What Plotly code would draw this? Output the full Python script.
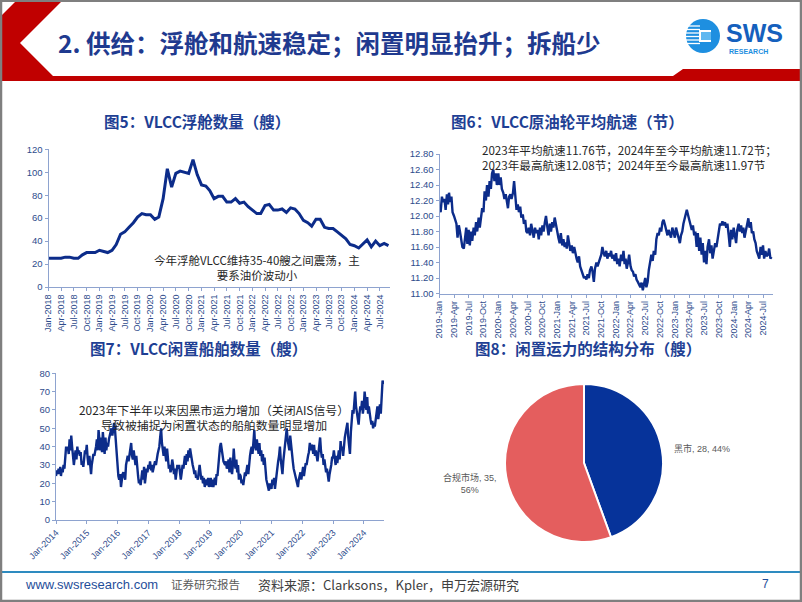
import plotly.graph_objects as go
import pandas as pd

W, H = 802, 602
def X(px): return px / W
def Y(py): return 1 - py / H

# ---------------- data ----------------
# Fig5: VLCC floating storage, monthly Jan-2018 .. Sep-2024
float_start = "2018-01-01"
float_values = [25, 25, 25, 25, 26, 26, 25, 25, 28, 30, 30, 30,
                32, 31, 30, 32, 37, 46, 48, 52, 56, 61, 64, 63,
                63, 59, 61, 77, 103, 87, 99, 101, 100, 99, 111, 98,
                89, 88, 84, 77, 79, 79, 74, 74, 77, 73, 74, 70,
                67, 64, 64, 71, 72, 67, 67, 68, 65, 69, 68, 64,
                58, 56, 53, 59, 59, 52, 51, 51, 48, 45, 42, 37,
                36, 34, 37, 41, 35, 40, 36, 38, 36]

# Fig6: VLCC average speed (knots), 4 readings per month
speed_2019 = [12.10, 12.05, 12.25, 12.18, 12.22, 12.08, 12.28, 12.15, 12.30, 12.18, 12.25, 12.05,
              12.00, 11.95, 11.90, 11.72, 11.88, 11.80, 11.65, 11.60, 11.58, 11.75, 11.85, 11.64,
              11.82, 11.62, 11.80, 11.68, 11.85, 11.75, 11.92, 11.80, 11.98, 11.85, 12.00, 12.10,
              12.05, 12.32, 12.20, 12.40, 12.25, 12.45, 12.35, 12.55, 12.60, 12.45, 12.55, 12.40]
speed_2020 = [12.55, 12.40, 12.50, 12.35, 12.30, 12.22, 12.28, 12.20, 12.10, 12.25, 12.28, 12.22,
              12.30, 12.45, 12.20, 12.08, 12.15, 12.05, 12.12, 11.98, 12.02, 11.90, 11.95, 11.80,
              11.78, 11.85, 11.75, 11.90, 11.80, 11.72, 11.85, 11.78, 11.82, 11.70, 11.85, 11.75,
              11.88, 11.80, 11.92, 12.00, 11.85, 11.75, 11.90, 11.80, 11.92, 11.85, 11.98, 11.88]
speed_2021 = [11.80, 11.72, 11.65, 11.78, 11.62, 11.70, 11.60, 11.66, 11.58, 11.75, 11.60, 11.55,
              11.62, 11.52, 11.60, 11.50, 11.45, 11.40, 11.48, 11.35, 11.30, 11.25, 11.20, 11.22,
              11.18, 11.25, 11.20, 11.30, 11.35, 11.28, 11.15, 11.32, 11.40, 11.35, 11.42, 11.45,
              11.50, 11.60, 11.52, 11.48, 11.55, 11.45, 11.52, 11.48, 11.55, 11.45, 11.50, 11.42]
speed_2022 = [11.52, 11.38, 11.45, 11.35, 11.50, 11.42, 11.55, 11.38, 11.45, 11.32, 11.40, 11.50,
              11.35, 11.30, 11.28, 11.22, 11.25, 11.18, 11.15, 11.12, 11.08, 11.14, 11.04, 11.12,
              11.20, 11.08, 11.15, 11.30, 11.40, 11.50, 11.42, 11.55, 11.50, 11.70, 11.78, 11.75,
              11.85, 11.80, 11.92, 11.95, 11.88, 11.80, 11.75, 11.82, 11.78, 11.72, 11.85, 11.78]
speed_2023 = [11.72, 11.85, 11.78, 11.70, 11.65, 11.75, 11.80, 11.90, 11.95, 12.00, 12.08, 12.02,
              11.95, 11.90, 11.82, 11.88, 11.75, 11.80, 11.60, 11.78, 11.55, 11.72, 11.50, 11.65,
              11.40, 11.55, 11.38, 11.60, 11.70, 11.52, 11.62, 11.45, 11.55, 11.65, 11.60, 11.70,
              11.85, 11.90, 11.88, 11.93, 11.88, 11.92, 11.85, 11.90, 11.75, 11.60, 11.82, 11.70]
speed_2024 = [11.85, 11.75, 11.65, 11.82, 11.90, 11.80, 11.88, 11.78, 11.85, 11.72, 11.80, 11.88,
              11.97, 11.85, 11.92, 11.78, 11.80, 11.70, 11.65, 11.55, 11.48, 11.45, 11.60, 11.50,
              11.62, 11.45, 11.55, 11.48, 11.50, 11.58, 11.45, 11.47]

# Fig7: VLCC idle ships, 3 readings per month
idle_2014 = [24, 27, 25, 28, 25, 29, 24, 28, 26, 30, 28, 33, 40, 38, 40, 36, 44, 38,
             46, 40, 35, 30, 34, 38, 33, 40, 36, 38, 35, 37, 30, 32, 29, 33, 38, 36]
idle_2015 = [41, 34, 30, 35, 28, 25, 30, 34, 36, 35, 37, 40, 44, 38, 49, 42, 38, 45,
             37, 48, 40, 36, 45, 38, 42, 40, 44, 46, 48, 50, 46, 52, 53, 50, 42, 36]
idle_2016 = [30, 24, 22, 25, 18, 22, 25, 26, 24, 22, 30, 33, 35, 32, 36, 40, 42, 35,
             33, 38, 32, 30, 35, 28, 24, 20, 22, 19, 24, 27, 22, 29, 20, 25, 28, 26]
idle_2017 = [30, 28, 32, 27, 30, 26, 28, 29, 32, 30, 34, 36, 38, 40, 45, 50, 42, 38,
             35, 40, 36, 32, 39, 33, 28, 30, 26, 28, 33, 30, 25, 28, 22, 26, 30, 28]
idle_2018 = [30, 26, 22, 26, 30, 28, 32, 35, 30, 36, 32, 38, 34, 39, 36, 32, 30, 28,
             25, 27, 23, 24, 22, 26, 30, 26, 22, 24, 20, 23, 18, 22, 20, 19, 23, 18]
idle_2019 = [20, 23, 18, 22, 18, 20, 23, 19, 25, 24, 30, 35, 40, 42, 38, 36, 32, 31,
             30, 32, 28, 30, 33, 26, 34, 28, 25, 30, 39, 32, 28, 33, 26, 30, 22, 25]
idle_2020 = [24, 20, 22, 19, 23, 26, 24, 28, 30, 25, 32, 35, 38, 40, 36, 42, 49, 40,
             38, 44, 40, 36, 42, 35, 38, 32, 36, 30, 34, 26, 22, 20, 18, 16, 20, 18]
idle_2021 = [17, 22, 19, 23, 17, 21, 25, 28, 32, 35, 40, 33, 30, 25, 32, 36, 40, 45,
             50, 44, 42, 38, 46, 40, 36, 32, 28, 26, 24, 22, 20, 18, 22, 24, 26, 22]
idle_2022 = [26, 29, 24, 28, 31, 30, 33, 35, 37, 42, 38, 41, 40, 36, 41, 35, 38, 33,
             32, 36, 40, 45, 38, 34, 36, 30, 33, 28, 26, 28, 24, 21, 25, 27, 30, 34]
idle_2023 = [34, 38, 32, 30, 35, 31, 34, 38, 33, 43, 38, 40, 35, 42, 45, 48, 52, 53,
             45, 40, 36, 48, 56, 60, 58, 66, 70, 62, 58, 55, 52, 58, 62, 60, 65, 58]
idle_2024 = [62, 70, 64, 60, 67, 58, 62, 57, 55, 52, 54, 50, 53, 51, 55, 58, 62, 55,
             60, 63, 58, 65, 76, 74]

# Fig8: idle capacity structure
pie_labels = ["黑市", "合规市场"]
pie_values = [28, 35]
pie_colors = ["#06339A", "#E45E5E"]

# ---------------- helpers ----------------
def spread(year_lists, start_year, per_month, days):
    xs, ys = [], []
    for k, vals in enumerate(year_lists):
        yr = start_year + k
        for j, v in enumerate(vals):
            xs.append(pd.Timestamp(year=yr, month=j // per_month + 1, day=days[j % per_month]))
            ys.append(v)
    return xs, ys

float_dates = pd.date_range(float_start, periods=len(float_values), freq="MS")
speed_x, speed_y = spread([speed_2019, speed_2020, speed_2021, speed_2022, speed_2023, speed_2024],
                          2019, 4, [1, 8, 16, 23])
idle_x, idle_y = spread([idle_2014, idle_2015, idle_2016, idle_2017, idle_2018, idle_2019,
                         idle_2020, idle_2021, idle_2022, idle_2023, idle_2024],
                        2014, 3, [1, 11, 21])

LINE = "#0C2C8A"
TITLE = "#1E3F94"
AXC = "#8EA3CF"
TICKC = "#2E4C8C"
TF = "Liberation Sans, Arial, sans-serif"
CJK = "Noto Sans CJK SC"

fig = go.Figure()
fig.add_trace(go.Scatter(x=float_dates, y=float_values, mode="lines",
                         line=dict(color=LINE, width=3), xaxis="x", yaxis="y",
                         showlegend=False, hoverinfo="skip"))
fig.add_trace(go.Scatter(x=speed_x, y=speed_y, mode="lines",
                         line=dict(color=LINE, width=2.4), xaxis="x2", yaxis="y2",
                         showlegend=False, hoverinfo="skip"))
fig.add_trace(go.Scatter(x=idle_x, y=idle_y, mode="lines",
                         line=dict(color=LINE, width=2.4), xaxis="x3", yaxis="y3",
                         showlegend=False, hoverinfo="skip"))
fig.add_trace(go.Pie(labels=pie_labels, values=pie_values, sort=False, direction="clockwise",
                     rotation=0, marker=dict(colors=pie_colors, line=dict(color="white", width=2)),
                     textinfo="none", hoverinfo="skip", showlegend=False, automargin=False,
                     domain=dict(x=[X(505), X(663)], y=[Y(542), Y(384)])))

def xax(domain, rng, fmt, dtick, tick0, angle, anchor):
    return dict(domain=domain, range=rng, type="date", tickformat=fmt, dtick=dtick, tick0=tick0,
                tickangle=angle, tickfont=dict(family=TF, size=9, color=TICKC),
                showline=True, linecolor=AXC, linewidth=1, ticks="outside", ticklen=3,
                tickcolor=AXC, showgrid=False, zeroline=False, anchor=anchor, fixedrange=True,
                automargin=False)

def yax(domain, rng, dtick, fmt, anchor):
    return dict(domain=domain, range=rng, dtick=dtick, tickformat=fmt,
                tickfont=dict(family=TF, size=9.5, color=TICKC),
                showline=True, linecolor=AXC, linewidth=1, ticks="outside", ticklen=3,
                tickcolor=AXC, showgrid=False, zeroline=False, anchor=anchor, fixedrange=True,
                automargin=False)

layout = dict(
    template="none",
    width=W, height=H, margin=dict(l=0, r=0, t=0, b=0, pad=0, autoexpand=False),
    paper_bgcolor="white", plot_bgcolor="white", showlegend=False,
    xaxis=xax([X(48.5), X(390)], ["2018-01-01", "2024-09-12"], "%b-%Y", "M3", "2018-01-01", -90, "y"),
    yaxis=yax([Y(287), Y(149.3)], [0, 120], 20, "d", "x"),
    xaxis2=xax([X(439.5), X(773)], ["2019-01-01", "2024-09-01"], "%Y-%b", "M3", "2019-01-01", -90, "y2"),
    yaxis2=yax([Y(293.5), Y(154)], [11.0, 12.8], 0.2, ".2f", "x2"),
    xaxis3=xax([X(56), X(384)], ["2014-01-01", "2024-08-28"], "%b-%Y", "M12", "2014-01-01", -45, "y3"),
    yaxis3=yax([Y(520), Y(373.3)], [0, 80], 10, "d", "x3"),
)
fig.update_layout(**layout)

# ---------------- shapes ----------------
def path(pts):
    return "M " + " L ".join(f"{X(a):.5f} {Y(b):.5f}" for a, b in pts) + " Z"

shapes = []
shapes.append(dict(type="path", xref="paper", yref="paper", layer="below",
                   path=path([(17, 0), (63, 0), (20, 43), (53, 76), (673, 76), (683, 69),
                              (802, 69), (802, 81), (0, 81), (0, 17)]),
                   fillcolor="#C00000", line=dict(width=0)))
shapes.append(dict(type="line", xref="paper", yref="paper", x0=0, x1=1, y0=Y(572), y1=Y(572),
                   line=dict(color="#2E8BC0", width=2)))
shapes.append(dict(type="circle", xref="paper", yref="paper", x0=X(686), x1=X(720), y0=Y(53), y1=Y(19),
                   fillcolor="#1E8FE0", line=dict(width=0)))
for yy in [26, 29.5, 33, 36.5, 40, 43.5]:
    shapes.append(dict(type="line", xref="paper", yref="paper", x0=X(686), x1=X(700),
                       y0=Y(yy), y1=Y(yy), line=dict(color="white", width=1.3)))
shapes.append(dict(type="rect", xref="paper", yref="paper", x0=X(699), x1=X(711), y0=Y(42), y1=Y(30),
                   fillcolor="white", line=dict(width=0)))
shapes.append(dict(type="rect", xref="paper", yref="paper", x0=X(701), x1=X(711), y0=Y(40), y1=Y(32),
                   fillcolor="#5FB8F0", line=dict(width=0)))
shapes.append(dict(type="rect", xref="paper", yref="paper", x0=X(1), x1=X(801), y0=Y(601), y1=Y(0.8),
                   line=dict(color="#7F7F7F", width=2.5), fillcolor="rgba(0,0,0,0)"))
fig.update_layout(shapes=shapes)

# ---------------- annotations ----------------
ann = []
def txt(x, y, s, size, color, family=CJK, xanchor="center", bold=False, align="center"):
    if bold:
        s = f"<b>{s}</b>"
    ann.append(dict(x=X(x), y=Y(y), xref="paper", yref="paper", text=s, showarrow=False,
                    xanchor=xanchor, yanchor="middle", align=align,
                    font=dict(family=family, size=size, color=color)))

txt(56, 43, "2. 供给：浮舱和航速稳定；闲置明显抬升；拆船少", 24.5, "#1F3A8F", xanchor="left", bold=True)
txt(754, 33, "SWS", 25, "#1560BD", family="Liberation Sans, Arial", bold=True)
txt(748, 51, "RESEARCH", 7, "#1E8FE0", family="Liberation Sans, Arial", bold=True)

txt(197, 121, "图5：VLCC浮舱数量（艘）", 15.5, TITLE, bold=True)
txt(567, 121, "图6：VLCC原油轮平均航速（节）", 15.5, TITLE, bold=True)
txt(198, 348, "图7：VLCC闲置船舶数量（艘）", 15.5, TITLE, bold=True)
txt(588, 348, "图8：闲置运力的结构分布（艘）", 15.5, TITLE, bold=True)

txt(257, 267, "今年浮舱VLCC维持35-40艘之间震荡，主<br>要系油价波动小", 11.5, "#262626")
txt(480, 157, "2023年平均航速11.76节，2024年至今平均航速11.72节；<br>"
              "2023年最高航速12.08节；2024年至今最高航速11.97节", 11.6, "#262626",
    xanchor="left", align="left")
txt(214, 417, "2023年下半年以来因黑市运力增加（关闭AIS信号）<br>导致被捕捉为闲置状态的船舶数量明显增加",
    11.9, "#262626")

total = sum(pie_values)
pct = [round(100 * v / total) for v in pie_values]
txt(672, 448, f"{pie_labels[0]}, {pie_values[0]}, {pct[0]}%", 9, "#595959", family=TF + ", " + CJK,
    xanchor="left")
txt(470, 483, f"{pie_labels[1]}, {pie_values[1]},<br>{pct[1]}%", 9, "#595959", family=TF + ", " + CJK)

txt(23, 584, "www.swsresearch.com", 13, "#1F4E9A", family="Liberation Sans, Arial", xanchor="left")
txt(169, 584, "证券研究报告", 11.5, "#595959", xanchor="left")
txt(256, 584, "资料来源：Clarksons，Kpler，申万宏源研究", 13, "#404040", xanchor="left")
txt(765, 584, "7", 12, "#1F4E9A", family="Liberation Sans, Arial")

fig.update_layout(annotations=ann)
fig.write_html("out.html")
